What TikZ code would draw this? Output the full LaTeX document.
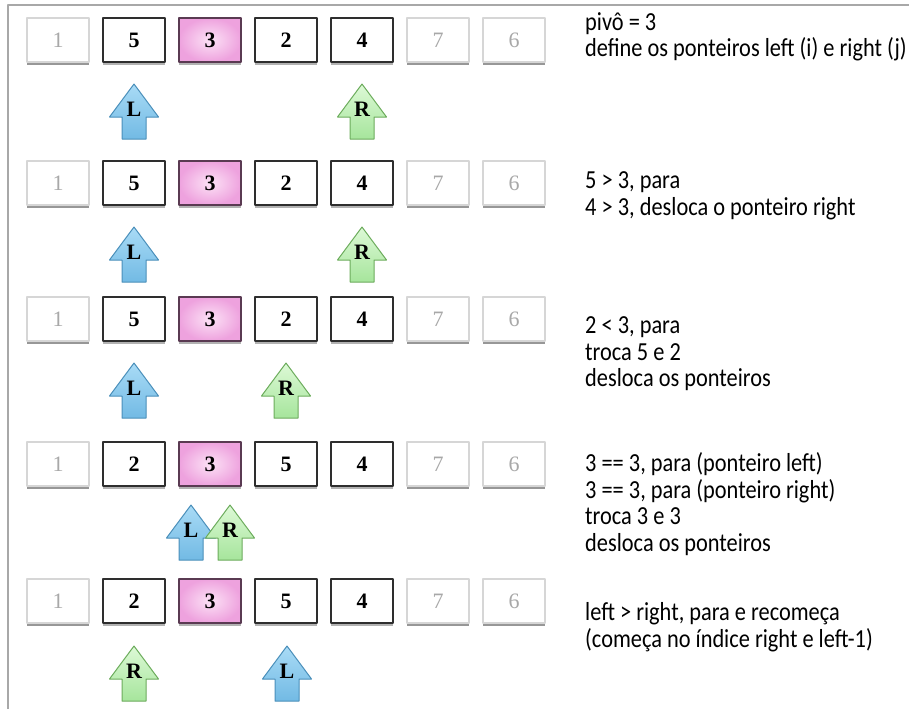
\documentclass[tikz,border=0pt]{standalone}
\usepackage{fontspec}
\setmainfont{Liberation Serif}
\newfontfamily\notefont{Carlito}[FakeStretch=0.86]
\usepackage{xcolor}
\usepackage{tikz}
\usetikzlibrary{shadows, positioning}

\definecolor{frameline}{HTML}{A8A8A8}
\definecolor{cellline}{HTML}{2E2E2E}
\definecolor{fadeline}{HTML}{D6D6D6}
\definecolor{fadetext}{HTML}{A8A8A8}
\definecolor{pivotline}{HTML}{5A3A52}
\definecolor{pivotin}{HTML}{FCE2F6}
\definecolor{pivotout}{HTML}{EEA2DE}
\definecolor{leftline}{HTML}{4A8FBA}
\definecolor{lefttop}{HTML}{A9DBF6}
\definecolor{leftbot}{HTML}{72BAE4}
\definecolor{rightline}{HTML}{6CAC5C}
\definecolor{righttop}{HTML}{DDF9D6}
\definecolor{rightbot}{HTML}{A6E59C}

\begin{document}
\begin{tikzpicture}[x=1pt, y=-1pt, line join=round,
    cell/.style={draw=cellline, line width=1.4pt, fill=white,
        minimum width=62pt, minimum height=44pt, inner sep=0pt,
        font=\fontsize{22}{22}\selectfont\bfseries,
        drop shadow={shadow xshift=0pt, shadow yshift=-3pt, fill=black, opacity=0.3}},
    faded/.style={cell, draw=fadeline, text=fadetext,
        font=\fontsize{22}{22}\selectfont,
        drop shadow={shadow xshift=0pt, shadow yshift=-3pt, fill=black, opacity=0.15}},
    pivot/.style={cell, draw=pivotline, inner color=pivotin, outer color=pivotout},
    ptrL/.style={draw=leftline, line width=1pt, top color=lefttop, bottom color=leftbot},
    ptrR/.style={draw=rightline, line width=1pt, top color=righttop, bottom color=rightbot},
    ptrtext/.style={font=\fontsize{22}{22}\selectfont\bfseries, inner sep=0pt},
    note/.style={anchor=west, align=left, inner sep=0pt,
        font=\notefont\fontsize{26}{26.5}\selectfont}]

    \useasboundingbox (0,0) rectangle (909,709);

    % Frame
    \draw[frameline, line width=1.2pt] (8,709) -- (8,5) -- (909,5);

    % Array rows
    \foreach \r/\yy/\a/\b in {1/40/5/2, 2/183/5/2, 3/319/5/2, 4/464/2/5, 5/601/2/5}{
        \node[faded] (b\r-1) at (58,\yy) {1};
        \node[cell]  (b\r-2) at (134,\yy) {\a};
        \node[pivot] (b\r-3) at (210,\yy) {3};
        \node[cell]  (b\r-4) at (286,\yy) {\b};
        \node[cell]  (b\r-5) at (362,\yy) {4};
        \node[faded] (b\r-6) at (438,\yy) {7};
        \node[faded] (b\r-7) at (514,\yy) {6};
    }

    % Pointers (tip at x/y)
    \foreach \n/\x/\y/\k/\lab in {
        L1/134/84/ptrL/L,
        R1/362/84/ptrR/R,
        L2/134/227/ptrL/L,
        R2/362/227/ptrR/R,
        L3/134/363/ptrL/L,
        R3/286/363/ptrR/R,
        L4/191/505/ptrL/L,
        R4/230/505/ptrR/R,
        R5/134/646/ptrR/R,
        L5/287/646/ptrL/L
    }{
        \draw[\k] (\x,\y) -- ++(24.5,33) -- ++(-12.5,0) -- ++(0,22)
            -- ++(-24,0) -- ++(0,-22) -- ++(-12.5,0) -- cycle;
        \node[ptrtext] (p\n) at (\x,\y+25) {\lab};
    }

    % Notes
    \node[note] (t1) at (585,37) {pivô = 3\\define os ponteiros left (i) e right (j)};
    \node[note] (t2) at (585,196) {5 > 3, para\\4 > 3, desloca o ponteiro right};
    \node[note] (t3) at (585,354) {2 < 3, para\\troca 5 e 2\\desloca os ponteiros};
    \node[note] (t4) at (585,504) {3 == 3, para (ponteiro left)\\3 == 3, para (ponteiro right)\\troca 3 e 3\\desloca os ponteiros};
    \node[note] (t5) at (585,627) {left > right, para e recomeça\\(começa no índice right e left-1)};

\end{tikzpicture}
\end{document}
